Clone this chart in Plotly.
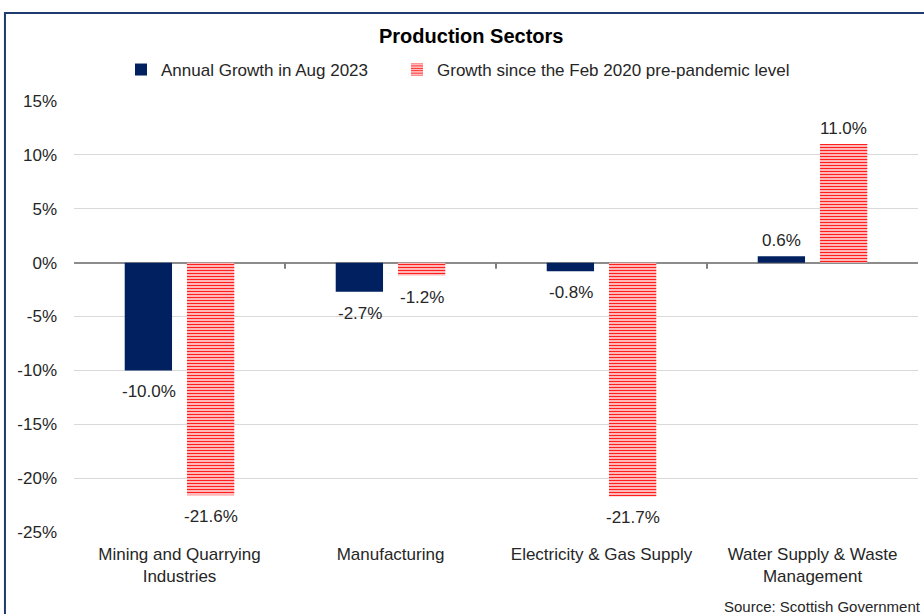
import plotly.graph_objects as go

# Production sector growth figures (%)
sectors = [
    "Mining and Quarrying<br>Industries",
    "Manufacturing",
    "Electricity & Gas Supply",
    "Water Supply & Waste<br>Management",
]
annual_growth = [-10.0, -2.7, -0.8, 0.6]
since_feb_2020 = [-21.6, -1.2, -21.7, 11.0]

y_ticks = [15, 10, 5, 0, -5, -10, -15, -20, -25]
y_tick_text = ["15%", "10%", "5%", "0%", "-5%", "-10%", "-15%", "-20%", "-25%"]

NAVY = "#002060"
RED = "#ff1f1f"
TEXT = "#262626"
FONT = "Liberation Sans, Arial, sans-serif"

fig = go.Figure()

fig.add_trace(go.Bar(
    name="Annual Growth in Aug 2023",
    x=sectors,
    y=annual_growth,
    marker=dict(color=NAVY, line=dict(width=0)),
    legend="legend",
))

fig.add_trace(go.Bar(
    name="Growth since the Feb 2020 pre-pandemic level",
    x=sectors,
    y=since_feb_2020,
    marker=dict(
        color="white",
        line=dict(width=0),
        pattern=dict(shape="-", fgcolor=RED, bgcolor="white",
                     size=3, solidity=0.55, fillmode="replace"),
    ),
    legend="legend2",
))

# Value labels, offset to sit over each bar of the group
for values, dx in [(annual_growth, -31), (since_feb_2020, 31)]:
    for cat, v in zip(sectors, values):
        fig.add_annotation(
            x=cat, y=v, xref="x", yref="y", text=f"{v:.1f}%",
            showarrow=False, xshift=dx,
            yanchor="top" if v < 0 else "bottom",
            yshift=-10 if v < 0 else 4,
            font=dict(size=17, color=TEXT, family=FONT),
        )

# Short tick marks on the zero line between categories
for xb in [0.5, 1.5, 2.5]:
    fig.add_shape(type="line", xref="x", yref="y", xsizemode="scaled",
                  ysizemode="pixel", yanchor=0, x0=xb, x1=xb, y0=0, y1=-6,
                  line=dict(color="#808080", width=2))

# Outer frame of the chart
fig.add_shape(type="rect", xref="paper", yref="paper",
              x0=-0.0818, x1=1.03, y0=-0.25, y1=1.204,
              line=dict(color="#1f3a6e", width=2), fillcolor="rgba(0,0,0,0)",
              layer="above")

fig.add_annotation(text="Source: Scottish Government", xref="paper", yref="paper",
                   x=1.006, y=-0.172, xanchor="right", yanchor="middle",
                   showarrow=False, font=dict(size=15, color=TEXT, family=FONT))

legend_common = dict(orientation="h", xanchor="left", y=1.072, yanchor="middle",
                     font=dict(size=17, color=TEXT, family=FONT), itemwidth=30,
                     bgcolor="rgba(0,0,0,0)")

fig.update_layout(
    width=924, height=614,
    margin=dict(l=74, r=6, t=101, b=82),
    paper_bgcolor="white", plot_bgcolor="white",
    font=dict(family=FONT, color=TEXT, size=17),
    title=dict(text="<b>Production Sectors</b>", x=0.51, xanchor="center",
               y=1 - 36 / 614, yanchor="middle",
               font=dict(size=20, color="black", family=FONT)),
    barmode="group", bargap=0.41, bargroupgap=0.24,
    showlegend=True,
    legend=dict(x=0.0557, **legend_common),
    legend2=dict(x=0.3827, **legend_common),
    xaxis=dict(showgrid=False, showline=False, ticks="",
               ticklabelstandoff=10,
               tickfont=dict(size=17, color=TEXT, family=FONT)),
    yaxis=dict(range=[-25, 15], tickvals=y_ticks, ticktext=y_tick_text,
               showgrid=True, gridcolor="#d9d9d9", gridwidth=1,
               zeroline=True, zerolinecolor="#8c8c8c", zerolinewidth=2,
               showline=False, ticks="", ticklabelstandoff=16,
               tickfont=dict(size=17, color=TEXT, family=FONT)),
)

fig.write_html("out.html")
